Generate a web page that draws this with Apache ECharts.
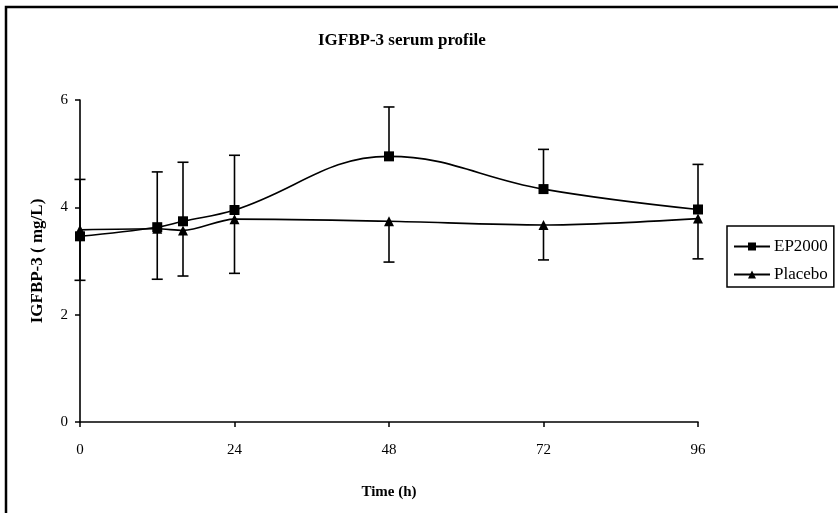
<!DOCTYPE html>
<html>
<head>
<meta charset="utf-8">
<script src="https://cdn.jsdelivr.net/npm/echarts@6/dist/echarts.min.js"></script>
<style>html,body{margin:0;padding:0;background:#fff;}#c{width:838px;height:513px;}</style>
</head>
<body>
<div id="c"></div>
<script>
const timeHours = [0, 12, 16, 24, 48, 72, 96];
const ep2000Mean = [3.46, 3.63, 3.74, 3.95, 4.95, 4.34, 3.96];
const ep2000Upper = [4.52, 4.66, 4.84, 4.97, 5.87, 5.08, 4.80];
const placeboMean = [3.58, 3.60, 3.57, 3.78, 3.74, 3.67, 3.79];
const placeboLower = [2.64, 2.66, 2.72, 2.77, 2.98, 3.02, 3.04];
const xTicks = [0, 24, 48, 72, 96];
const yTicks = [0, 2, 4, 6];

const FONT = '"Liberation Serif", "DejaVu Serif", serif';

function pairs(xs, ys) { return xs.map((x, i) => [x, ys[i]]); }
function barData(xs, a, b) { return xs.map((x, i) => [x, a[i], b[i]]); }

function errorRender(params, api) {
  const x = api.value(0);
  const p1 = api.coord([x, api.value(1)]);
  const p2 = api.coord([x, api.value(2)]);
  const hw = 5.5;
  const style = { stroke: '#000', lineWidth: 1.6, fill: null };
  return {
    type: 'group',
    children: [
      { type: 'line', shape: { x1: p1[0], y1: p1[1], x2: p2[0], y2: p2[1] }, style },
      { type: 'line', shape: { x1: p2[0] - hw, y1: p2[1], x2: p2[0] + hw, y2: p2[1] }, style }
    ]
  };
}

const chart = echarts.init(document.getElementById('c'), null, { renderer: 'canvas' });
chart.setOption({
  animation: false,
  backgroundColor: '#fff',
  title: {
    text: 'IGFBP-3 serum profile',
    left: 313, top: 27,
    textStyle: { fontFamily: FONT, fontWeight: 'bold', fontSize: 17, color: '#000' }
  },
  graphic: [{
    type: 'polyline', silent: true,
    shape: { points: [[6, 513], [6, 7], [838, 7]] },
    style: { stroke: '#000', lineWidth: 2.5, fill: null }
  }],
  legend: {
    orient: 'vertical',
    left: 727, top: 226,
    padding: [12, 6, 4, 6],
    itemGap: 11,
    itemWidth: 36, itemHeight: 10,
    borderColor: '#000', borderWidth: 1.5,
    backgroundColor: '#fff',
    textStyle: { fontFamily: FONT, fontSize: 17, color: '#000', padding: [0, 0, 0, -1] },
    data: ['EP2000', 'Placebo']
  },
  grid: { left: 80, right: 140, top: 100, bottom: 91, containLabel: false },
  xAxis: {
    type: 'value', min: 0, max: 96, interval: 24,
    name: 'Time (h)', nameLocation: 'middle', nameGap: 63,
    nameTextStyle: { fontFamily: FONT, fontWeight: 'bold', fontSize: 15, color: '#000' },
    axisLine: { onZero: false, lineStyle: { color: '#000', width: 1.6 } },
    axisTick: { show: true, length: 5, lineStyle: { color: '#000', width: 1.5 } },
    axisLabel: { margin: 21, fontFamily: FONT, fontSize: 15, color: '#000',
      formatter: v => xTicks.includes(v) ? String(v) : '' },
    splitLine: { show: false }
  },
  yAxis: {
    type: 'value', min: 0, max: 6, interval: 2,
    name: 'IGFBP-3 ( mg/L)', nameLocation: 'middle', nameGap: 34, nameRotate: 90,
    nameTextStyle: { fontFamily: FONT, fontWeight: 'bold', fontSize: 17, color: '#000' },
    axisLine: { show: true, onZero: false, lineStyle: { color: '#000', width: 1.6 } },
    axisTick: { show: true, length: 5, lineStyle: { color: '#000', width: 1.5 } },
    axisLabel: { margin: 12, fontFamily: FONT, fontSize: 15, color: '#000',
      formatter: v => yTicks.includes(v) ? String(v) : '' },
    splitLine: { show: false }
  },
  series: [
    {
      name: 'EP2000', type: 'line', smooth: 0.4,
      data: pairs(timeHours, ep2000Mean),
      symbol: 'rect', symbolSize: 10,
      lineStyle: { color: '#000', width: 1.6 },
      itemStyle: { color: '#000' },
      z: 3
    },
    {
      name: 'Placebo', type: 'line', smooth: 0.3,
      data: pairs(timeHours, placeboMean),
      symbol: 'triangle', symbolSize: 10,
      lineStyle: { color: '#000', width: 1.6 },
      itemStyle: { color: '#000' },
      z: 3
    },
    {
      name: 'EP2000 SD', type: 'custom',
      data: barData(timeHours, ep2000Mean, ep2000Upper),
      renderItem: errorRender, z: 2, silent: true
    },
    {
      name: 'Placebo SD', type: 'custom',
      data: barData(timeHours, placeboMean, placeboLower),
      renderItem: errorRender, z: 2, silent: true
    }
  ]
});
</script>
</body>
</html>
